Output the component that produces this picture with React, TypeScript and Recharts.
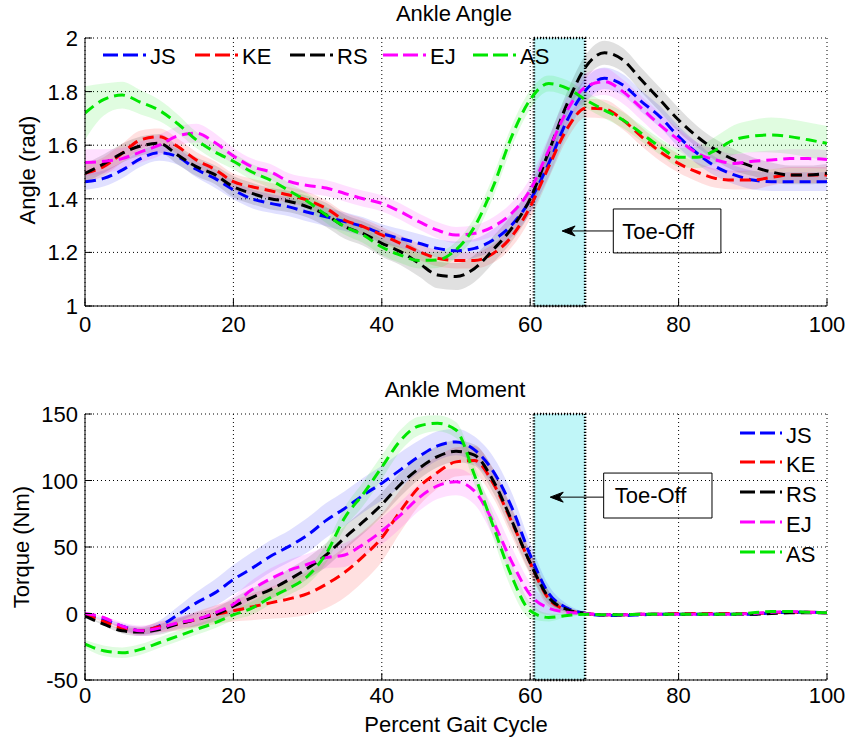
import React from 'react';
import {
  ComposedChart,
  Line,
  Area,
  XAxis,
  YAxis,
  CartesianGrid,
  ReferenceArea,
  ReferenceLine,
  ReferenceDot,
} from 'recharts';

const FONT = '"Liberation Sans", Arial, Helvetica, sans-serif';

// ---------- data ----------
const GAIT = [
  0, 2.5, 5, 7.5, 10, 12.5, 15, 17.5, 20, 22.5, 25, 27.5, 30, 32.5, 35, 37.5, 40, 42.5, 45, 47.5,
  50, 52.5, 55, 57.5, 60, 62.5, 65, 67.5, 70, 72.5, 75, 77.5, 80, 82.5, 85, 87.5, 90, 92.5, 95, 97.5, 100,
];

const SUBJECTS = ['JS', 'KE', 'RS', 'EJ', 'AS'];
const COLORS = ['#0000ff', '#ff0000', '#000000', '#ff00ff', '#00e600'];

const X_TICKS = [0, 20, 40, 60, 80, 100];
const ANGLE_TICKS = [1, 1.2, 1.4, 1.6, 1.8, 2];
const MOMENT_TICKS = [-50, 0, 50, 100, 150];

// Ankle angle (rad) means
const ANGLE_JS = [
  1.464, 1.476, 1.507, 1.55, 1.572, 1.557, 1.51, 1.476, 1.433, 1.40,
  1.383, 1.37, 1.35, 1.333, 1.315, 1.296, 1.27, 1.252, 1.234, 1.215,
  1.206, 1.215, 1.246, 1.302, 1.395, 1.532, 1.694, 1.806, 1.85, 1.825,
  1.763, 1.706, 1.632, 1.57, 1.52, 1.489, 1.47, 1.464, 1.464, 1.464, 1.464,
];
const ANGLE_KE = [
  1.495, 1.52, 1.57, 1.62, 1.632, 1.595, 1.545, 1.51, 1.464, 1.445,
  1.43, 1.414, 1.395, 1.364, 1.32, 1.296, 1.265, 1.234, 1.203, 1.178,
  1.17, 1.17, 1.196, 1.259, 1.37, 1.52, 1.663, 1.738, 1.735, 1.694,
  1.632, 1.576, 1.532, 1.50, 1.476, 1.47, 1.47, 1.48, 1.489, 1.489, 1.489,
];
const ANGLE_RS = [
  1.495, 1.53, 1.57, 1.597, 1.607, 1.563, 1.52, 1.49, 1.445, 1.42,
  1.40, 1.39, 1.37, 1.34, 1.296, 1.27, 1.234, 1.203, 1.16, 1.116,
  1.11, 1.14, 1.21, 1.29, 1.40, 1.576, 1.756, 1.893, 1.945, 1.918,
  1.843, 1.769, 1.694, 1.632, 1.582, 1.545, 1.52, 1.50, 1.489, 1.489, 1.495,
];
const ANGLE_EJ = [
  1.535, 1.54, 1.55, 1.575, 1.60, 1.635, 1.645, 1.61, 1.56, 1.52,
  1.50, 1.465, 1.45, 1.44, 1.42, 1.40, 1.383, 1.352, 1.315, 1.283,
  1.265, 1.271, 1.296, 1.346, 1.433, 1.582, 1.731, 1.818, 1.837, 1.80,
  1.738, 1.675, 1.62, 1.57, 1.545, 1.532, 1.54, 1.545, 1.55, 1.55, 1.547,
];
const ANGLE_AS = [
  1.72, 1.77, 1.787, 1.76, 1.73, 1.68, 1.62, 1.575, 1.54, 1.50,
  1.47, 1.43, 1.39, 1.34, 1.296, 1.265, 1.22, 1.19, 1.17, 1.172,
  1.21, 1.296, 1.445, 1.632, 1.77, 1.83, 1.812, 1.769, 1.731, 1.694,
  1.644, 1.594, 1.555, 1.555, 1.582, 1.62, 1.634, 1.638, 1.632, 1.62, 1.607,
];

// Ankle angle standard deviations (rad)
const ANGLE_SD_JS = [
  0.03, 0.03, 0.03, 0.03, 0.03, 0.03, 0.03, 0.035, 0.035, 0.035,
  0.035, 0.035, 0.035, 0.035, 0.035, 0.035, 0.035, 0.035, 0.035, 0.035,
  0.035, 0.035, 0.04, 0.045, 0.05, 0.05, 0.05, 0.045, 0.04, 0.04,
  0.04, 0.04, 0.04, 0.04, 0.035, 0.035, 0.035, 0.035, 0.035, 0.035, 0.035,
];
const ANGLE_SD_KE = [
  0.035, 0.035, 0.035, 0.035, 0.03, 0.03, 0.03, 0.03, 0.03, 0.03,
  0.03, 0.03, 0.03, 0.03, 0.03, 0.03, 0.03, 0.03, 0.03, 0.03,
  0.03, 0.03, 0.035, 0.04, 0.045, 0.045, 0.04, 0.035, 0.035, 0.035,
  0.035, 0.035, 0.035, 0.035, 0.035, 0.035, 0.035, 0.03, 0.03, 0.03, 0.03,
];
const ANGLE_SD_RS = [
  0.035, 0.035, 0.035, 0.035, 0.035, 0.035, 0.035, 0.035, 0.04, 0.04,
  0.04, 0.04, 0.04, 0.045, 0.045, 0.045, 0.05, 0.05, 0.05, 0.05,
  0.05, 0.05, 0.05, 0.05, 0.05, 0.05, 0.045, 0.045, 0.045, 0.045,
  0.045, 0.045, 0.045, 0.04, 0.04, 0.04, 0.035, 0.035, 0.035, 0.035, 0.035,
];
const ANGLE_SD_EJ = [
  0.05, 0.045, 0.04, 0.04, 0.04, 0.035, 0.035, 0.035, 0.03, 0.03,
  0.03, 0.03, 0.03, 0.03, 0.03, 0.03, 0.03, 0.03, 0.03, 0.03,
  0.03, 0.03, 0.035, 0.04, 0.045, 0.05, 0.05, 0.05, 0.05, 0.045,
  0.045, 0.045, 0.04, 0.04, 0.04, 0.035, 0.035, 0.035, 0.035, 0.035, 0.035,
];
const ANGLE_SD_AS = [
  0.1, 0.06, 0.05, 0.045, 0.04, 0.035, 0.03, 0.03, 0.03, 0.03,
  0.03, 0.03, 0.03, 0.03, 0.03, 0.03, 0.03, 0.03, 0.03, 0.03,
  0.03, 0.035, 0.04, 0.04, 0.035, 0.03, 0.03, 0.03, 0.03, 0.03,
  0.03, 0.03, 0.035, 0.04, 0.05, 0.055, 0.06, 0.065, 0.065, 0.065, 0.065,
];

// Ankle moment (Nm) means
const MOMENT_JS = [
  -1, -4.5, -9.5, -13, -9.5, -1, 8, 15.5, 25.5, 34,
  43, 50.5, 59, 70, 79, 89, 98, 108, 118, 126,
  129, 123, 107, 80, 44, 15, 4, 0, -1.5, -1.5,
  -1, -0.5, -0.5, -0.5, -0.5, -0.5, -0.5, 0.5, 1, 1, 0.5,
];
const MOMENT_KE = [
  -1, -6, -11, -13, -10, -8, -4.5, -1, 2, 5,
  8, 11, 15, 22, 31, 43, 57, 77, 95, 106,
  114, 115, 98, 69, 38, 11, 2.5, 0, -1, -1,
  -0.5, -0.5, 0, 0, 0, 0, 0, 0.5, 1, 1, 0.5,
];
const MOMENT_RS = [
  -2, -8, -13, -14, -12, -8, -4.5, -1, 5.5, 12,
  18, 25.5, 34, 44, 57, 69, 82, 97, 109, 118,
  122, 119, 100, 70, 38, 12, 3, 0, -1, -1,
  -0.5, -0.5, -0.5, -0.5, -0.5, -0.5, -0.5, 0, 0.5, 0.5, 0.5,
];
const MOMENT_EJ = [
  0, -3, -9.5, -13, -11, -7, -4.5, 0.5, 7, 18,
  26, 32.5, 37, 42, 44, 52, 62, 74, 87, 96,
  99, 92, 69, 39, 14, 4, 1, 0, -1, -1,
  -0.5, -0.5, -0.5, -0.5, -0.5, -0.5, 0, 1, 1.5, 1, 0.5,
];
const MOMENT_AS = [
  -23, -28, -29.5, -27, -22, -17, -12, -7, -1, 4,
  12, 19, 28, 45, 72, 90, 110, 130, 141, 143,
  138, 104, 66, 28, 2, -3, -1.5, -0.5, -1, -1,
  -0.5, -0.5, -0.5, -0.5, -0.5, -0.5, 0.5, 1.5, 1.5, 1, 0.5,
];

// Ankle moment standard deviations (Nm)
const MOMENT_SD_JS = [
  0, 1, 2, 3, 4, 6, 8, 10, 11, 12,
  12, 12, 13, 13, 13, 13, 13, 13, 12, 11,
  10, 10, 11, 11, 9, 6, 3, 1, 0.5, 0.5,
  0.5, 0.5, 0.5, 0.5, 0.5, 0.5, 0.5, 0.5, 0.5, 0.5, 0.5,
];
const MOMENT_SD_KE = [
  0, 1, 2, 3, 4, 5, 6, 7, 8, 10,
  12, 14, 16, 18, 19, 19, 18, 16, 14, 12,
  11, 11, 11, 11, 9, 6, 3, 1, 0.5, 0.5,
  0.5, 0.5, 0.5, 0.5, 0.5, 0.5, 0.5, 0.5, 0.5, 0.5, 0.5,
];
const MOMENT_SD_RS = [
  0, 1, 2, 3, 4, 4, 5, 5, 6, 7,
  7, 8, 8, 9, 9, 9, 9, 9, 8, 8,
  8, 8, 9, 9, 8, 5, 2, 1, 0.5, 0.5,
  0.5, 0.5, 0.5, 0.5, 0.5, 0.5, 0.5, 0.5, 0.5, 0.5, 0.5,
];
const MOMENT_SD_EJ = [
  0, 1, 3, 4, 4, 4, 5, 5, 6, 7,
  8, 8, 8, 8, 9, 9, 10, 10, 10, 10,
  10, 10, 11, 11, 9, 5, 2, 1, 0.5, 0.5,
  0.5, 0.5, 0.5, 0.5, 0.5, 0.5, 0.5, 0.5, 0.5, 0.5, 0.5,
];
const MOMENT_SD_AS = [
  3, 4, 4, 4, 4, 4, 4, 4, 4, 5,
  5, 5, 6, 7, 8, 9, 9, 8, 7, 6,
  6, 7, 9, 10, 6, 3, 1, 1, 0.5, 0.5,
  0.5, 0.5, 0.5, 0.5, 0.5, 0.5, 0.5, 0.5, 0.5, 0.5, 0.5,
];

// Toe-off window and annotation anchors (data units)
const TOE_OFF = [60.5, 67.4];
const ANGLE_NOTE = { x1: 71.2, x2: 85.7, y1: 1.198, y2: 1.362, arrowY: 1.28, tipX: 64.3 };
const MOMENT_NOTE = { x1: 69.9, x2: 84.5, y1: 71.8, y2: 105.6, arrowY: 87.5, tipX: 62.7 };

// ---------- build tables ----------
function buildRows(means: number[][], sds: number[][]) {
  return GAIT.map((x, i) => {
    const row: any = { x };
    SUBJECTS.forEach((k, j) => {
      const v = means[j][i];
      const s = sds[j][i];
      row[k] = v;
      row[k + '_band'] = [v - s, v + s];
    });
    return row;
  });
}

const angleRows = buildRows(
  [ANGLE_JS, ANGLE_KE, ANGLE_RS, ANGLE_EJ, ANGLE_AS],
  [ANGLE_SD_JS, ANGLE_SD_KE, ANGLE_SD_RS, ANGLE_SD_EJ, ANGLE_SD_AS]
);
const momentRows = buildRows(
  [MOMENT_JS, MOMENT_KE, MOMENT_RS, MOMENT_EJ, MOMENT_AS],
  [MOMENT_SD_JS, MOMENT_SD_KE, MOMENT_SD_RS, MOMENT_SD_EJ, MOMENT_SD_AS]
);

// ---------- tick renderers ----------
const makeYTick = (fmt: (v: number) => string) => (props: any) => {
  const { x, y, payload } = props;
  return (
    <g>
      <line x1={x} x2={x + 7} y1={y} y2={y} stroke="#000" strokeWidth={1} />
      <text x={x - 7} y={y} dy={8} textAnchor="end" fontSize={22} fontFamily={FONT} fill="#000">
        {fmt(payload.value)}
      </text>
    </g>
  );
};

const makeXTick = (off: number) => (props: any) => {
  const { x, y, payload } = props;
  return (
    <g>
      <line x1={x} x2={x} y1={y} y2={y - 7} stroke="#000" strokeWidth={1} />
      <text x={x} y={y + off} textAnchor="middle" fontSize={22} fontFamily={FONT} fill="#000">
        {String(payload.value)}
      </text>
    </g>
  );
};

const arrowHead = (props: any) => {
  const { cx, cy } = props;
  return (
    <path
      d={`M${cx},${cy} L${cx + 13},${cy - 5} L${cx + 9},${cy} L${cx + 13},${cy + 5} Z`}
      fill="#000"
      stroke="#000"
      strokeWidth={1}
    />
  );
};

const DASH = '11 6';

function Panel(props: {
  rows: any[];
  height: number;
  marginTop: number;
  xAxisHeight: number;
  xTickOff: number;
  domain: [number, number];
  yTicks: number[];
  fmt: (v: number) => string;
  note: typeof ANGLE_NOTE;
  noteOffset: number;
}) {
  const { rows, height, marginTop, xAxisHeight, xTickOff, domain, yTicks, fmt, note, noteOffset } = props;
  return (
    <ComposedChart
      width={851}
      height={height}
      data={rows}
      margin={{ top: marginTop, right: 24, bottom: 0, left: 25 }}
      style={{ fontFamily: FONT }}
    >
      <CartesianGrid stroke="#000" strokeDasharray="1 3" strokeWidth={1} />
      <XAxis
        dataKey="x"
        type="number"
        domain={[0, 100]}
        ticks={X_TICKS}
        interval={0}
        height={xAxisHeight}
        tickSize={0}
        tickMargin={0}
        tickLine={false}
        axisLine={{ stroke: '#000', strokeWidth: 1 }}
        tick={makeXTick(xTickOff)}
        allowDataOverflow
      />
      <YAxis
        type="number"
        domain={domain}
        ticks={yTicks}
        interval={0}
        width={60}
        tickSize={0}
        tickMargin={0}
        tickLine={false}
        axisLine={{ stroke: '#000', strokeWidth: 1 }}
        tick={makeYTick(fmt)}
        allowDataOverflow
      />
      <ReferenceArea
        x1={TOE_OFF[0]}
        x2={TOE_OFF[1]}
        y1={domain[0]}
        y2={domain[1]}
        fill="#c0f6f8"
        fillOpacity={1}
        stroke="#000"
        strokeWidth={2.5}
        strokeDasharray="1.2 1.8"
      />
      {SUBJECTS.map((k, j) => (
        <Area
          key={k + '_band'}
          dataKey={k + '_band'}
          type="monotone"
          fill={COLORS[j]}
          fillOpacity={0.12}
          stroke="none"
          isAnimationActive={false}
          activeDot={false}
          dot={false}
        />
      ))}
      {SUBJECTS.map((k, j) => (
        <Line
          key={k}
          dataKey={k}
          type="monotone"
          stroke={COLORS[j]}
          strokeWidth={3}
          strokeDasharray={DASH}
          dot={false}
          activeDot={false}
          isAnimationActive={false}
        />
      ))}
      <ReferenceArea
        x1={note.x1}
        x2={note.x2}
        y1={note.y1}
        y2={note.y2}
        fill="none"
        fillOpacity={0}
        stroke="#000"
        strokeWidth={1}
        label={{
          value: 'Toe-Off',
          position: 'insideLeft',
          offset: noteOffset,
          fontSize: 22,
          fill: '#000',
          fontFamily: FONT,
        }}
      />
      <ReferenceLine
        segment={[
          { x: note.x1, y: note.arrowY },
          { x: note.tipX + 1, y: note.arrowY },
        ]}
        stroke="#000"
        strokeWidth={1}
      />
      <ReferenceDot x={note.tipX} y={note.arrowY} r={6} shape={arrowHead} />
    </ComposedChart>
  );
}

function LegendSample({ x, y, color, len }: { x: number; y: number; color: string; len: number }) {
  return (
    <line x1={x} x2={x + len} y1={y} y2={y} stroke={color} strokeWidth={3} strokeDasharray="15 5" />
  );
}

export default function App() {
  const topLegendX = [103, 195, 290, 383, 473];
  const botLegendY = [433, 462, 492, 522, 552];
  return (
    <div style={{ position: 'absolute', left: 0, top: 0, width: 851, height: 740, background: '#fff', fontFamily: FONT }}>
      <div style={{ position: 'absolute', left: 0, top: 0 }}>
        <Panel
          rows={angleRows}
          height={340}
          marginTop={38}
          xAxisHeight={34}
          xTickOff={26}
          domain={[1, 2]}
          yTicks={ANGLE_TICKS}
          fmt={(v) => String(+v.toFixed(1))}
          note={ANGLE_NOTE}
          noteOffset={9}
        />
      </div>
      <div style={{ position: 'absolute', left: 0, top: 370 }}>
        <Panel
          rows={momentRows}
          height={370}
          marginTop={44}
          xAxisHeight={60}
          xTickOff={23}
          domain={[-50, 150]}
          yTicks={MOMENT_TICKS}
          fmt={(v) => String(v)}
          note={MOMENT_NOTE}
          noteOffset={11}
        />
      </div>
      <svg
        width={851}
        height={740}
        style={{ position: 'absolute', left: 0, top: 0, pointerEvents: 'none' }}
        fontFamily={FONT}
      >
        <text x={454} y={21} textAnchor="middle" fontSize={22} fill="#000">Ankle Angle</text>
        <text x={455} y={397} textAnchor="middle" fontSize={22} fill="#000">Ankle Moment</text>
        <text x={456} y={732} textAnchor="middle" fontSize={22} fill="#000">Percent Gait Cycle</text>
        <text x={35} y={170} textAnchor="middle" fontSize={22} fill="#000" transform="rotate(-90 35 170)">
          Angle (rad)
        </text>
        <text x={29} y={547} textAnchor="middle" fontSize={22} fill="#000" transform="rotate(-90 29 547)">
          Torque (Nm)
        </text>
        {SUBJECTS.map((k, j) => (
          <g key={'tl' + k}>
            <LegendSample x={topLegendX[j]} y={55} color={COLORS[j]} len={43} />
            <text x={topLegendX[j] + 47} y={64} fontSize={22} fill="#000">{k}</text>
          </g>
        ))}
        {SUBJECTS.map((k, j) => (
          <g key={'bl' + k}>
            <LegendSample x={740} y={botLegendY[j]} color={COLORS[j]} len={42} />
            <text x={786} y={botLegendY[j] + 10} fontSize={22} fill="#000">{k}</text>
          </g>
        ))}
      </svg>
    </div>
  );
}
